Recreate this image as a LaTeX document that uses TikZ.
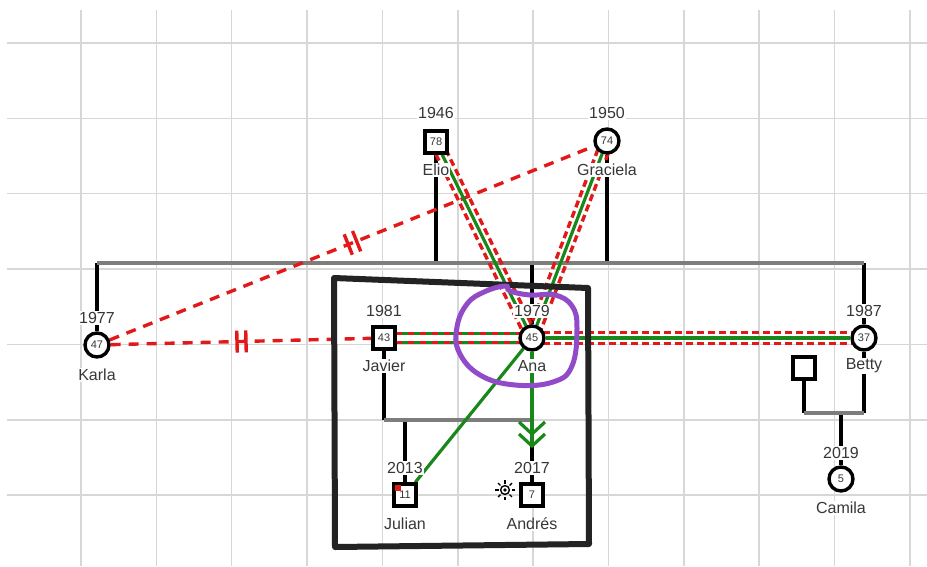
\documentclass[tikz,border=0pt]{standalone}
\usepackage{fontspec}
\setmainfont{Liberation Sans}
\usetikzlibrary{calc,decorations.markings}
\pgfdeclarelayer{gridlayer}
\pgfdeclarelayer{background}
\pgfdeclarelayer{fore}
\pgfsetlayers{gridlayer,background,main,fore}
\definecolor{txt}{RGB}{55,55,55}
\definecolor{gridc}{RGB}{215,215,215}
\definecolor{linegray}{RGB}{125,125,125}
\definecolor{grn}{RGB}{25,135,25}
\definecolor{rd}{RGB}{225,25,25}
\definecolor{purp}{RGB}{145,75,200}
\definecolor{framec}{RGB}{35,35,35}
\tikzset{
  male/.style={draw=black, line width=3.4pt, rectangle, minimum size=22pt, inner sep=0pt, fill=white, font=\fontsize{11}{11}\selectfont, text=txt},
  female/.style={draw=black, line width=3.4pt, circle, minimum size=24pt, inner sep=0pt, fill=white, font=\fontsize{11}{11}\selectfont, text=txt},
  yr/.style={fill=white, inner sep=1pt, font=\fontsize{16}{16}\selectfont, text=txt},
  nm/.style={fill=white, inner sep=1pt, font=\fontsize{16}{16}\selectfont, text=txt},
  kin/.style={line width=3.4pt, black},
  sib/.style={line width=3.6pt, linegray},
  reddash/.style={rd, line width=3.4pt, dash pattern=on 7pt off 4pt},
  cutline/.style={rd, line width=3.4pt, dash pattern=on 10pt off 8pt,
    postaction={decorate},
    decoration={markings, mark=at position 0.5 with {\draw[rd, solid, line width=3.4pt] (-4,-11) -- (-4,11) (5,-11) -- (5,11);}}},
  grnline/.style={grn, line width=3.2pt},
  rgline/.style={rd, line width=3.4pt, dash pattern=on 6pt off 6pt},
}
\newcommand\fusedrel[2]{%
  \draw[grnline] (#1) -- (#2);
  \draw[reddash] ($(#1)!5.5pt!90:(#2)$) -- ($(#2)!5.5pt!-90:(#1)$);
  \draw[reddash] ($(#1)!5.5pt!-90:(#2)$) -- ($(#2)!5.5pt!90:(#1)$);
}
\begin{document}
\begin{tikzpicture}[x=1pt,y=-1pt]
\useasboundingbox (0,0) rectangle (927,566);
% grid
\begin{pgfonlayer}{gridlayer}
  \fill[white] (0,0) rectangle (927,566);
  \foreach \i in {0,...,11} \draw[gridc, line width=1.5pt] ({81+75.35*\i},10) -- ({81+75.35*\i},566);
  \foreach \j in {0,...,6} \draw[gridc, line width=1.5pt] (7,{43+75.35*\j}) -- (927,{43+75.35*\j});
\end{pgfonlayer}

% persons
\node[male] (elio) at (436,142) {78};
\node[yr] (elioY) at (436,113) {1946};
\node[nm] (elioN) at (436,170) {Elio};

\node[female] (graciela) at (607,141) {74};
\node[yr] (gracielaY) at (607,113) {1950};
\node[nm] (gracielaN) at (607,170) {Graciela};

\node[female] (karla) at (97,345) {47};
\node[yr] (karlaY) at (97,318) {1977};
\node[nm] (karlaN) at (97,375) {Karla};

\node[male] (javier) at (384,338) {43};
\node[yr] (javierY) at (384,311) {1981};
\node[nm] (javierN) at (384,366) {Javier};

\node[female] (ana) at (532,338) {45};
\node[yr] (anaY) at (532,311) {1979};
\node[nm] (anaN) at (532,366) {Ana};

\node[female] (betty) at (864,338) {37};
\node[yr] (bettyY) at (864,311) {1987};
\node[nm] (bettyN) at (864,366) {Betty};

\node[male] (partner) at (804,368) {};

\node[female] (camila) at (841,479) {5};
\node[yr] (camilaY) at (841,453) {2019};
\node[nm] (camilaN) at (841,508) {Camila};

\node[male] (julian) at (405,495) {11};
\node[yr] (julianY) at (405,468) {2013};
\node[nm] (julianN) at (405,524) {Julian};
\fill[rd] (395,485) rectangle (401,491);

\node[male] (andres) at (532,495) {7};
\node[yr] (andresY) at (532,468) {2017};
\node[nm] (andresN) at (532,524) {Andrés};

% sun symbol next to Andres
\begin{scope}[shift={(505,490)}]
  \draw[black, line width=1.4pt] (0,0) circle (4.4);
  \fill[black] (0,0) circle (1.8);
  \foreach \a in {0,45,...,315} \draw[black, line width=1.4pt] (\a:6.5) -- (\a:9.8);
\end{scope}

% junction coordinates
\coordinate (sL) at (97,263);
\coordinate (sR) at (864,263);
\coordinate (sE) at (436,263);
\coordinate (sG) at (607,263);
\coordinate (sA) at (532,263);
\coordinate (fL) at (384,420);
\coordinate (fR) at (532,420);
\coordinate (fJ) at (405,420);
\coordinate (bL) at (804,413);
\coordinate (bR) at (864,413);
\coordinate (bC) at (841,413);
\coordinate (arrTip) at (532,446);

\begin{pgfonlayer}{background}
  % family structure
  \draw[kin] (sL) -- (karla);
  \draw[kin] (sE) -- (elio);
  \draw[kin] (sG) -- (graciela);
  \draw[kin] (sA) -- (ana);
  \draw[kin] (sR) -- (betty);
  \draw[sib] (sL) -- (sR);
  \draw[kin] (javier) -- (fL);
  \draw[kin] (fJ) -- (julian);
  \draw[kin] (fR) -- (andres);
  \draw[sib] (fL) -- (fR);
  \draw[kin] (betty) -- (bR);
  \draw[kin] (partner) -- (bL);
  \draw[kin] (bC) -- (camila);
  \draw[sib] (bL) -- (bR);
  % emotional relationships
  \draw[cutline] (karla) -- (graciela);
  \draw[cutline] (karla) -- (javier);
  \fusedrel{elio}{ana}
  \fusedrel{graciela}{ana}
  \fusedrel{ana}{betty}
  \draw[grn, line width=3.4pt] ($(javier)!4.5pt!90:(ana)$) -- ($(ana)!4.5pt!-90:(javier)$);
  \draw[rgline] ($(javier)!4.5pt!90:(ana)$) -- ($(ana)!4.5pt!-90:(javier)$);
  \draw[grn, line width=3.4pt] ($(javier)!4.5pt!-90:(ana)$) -- ($(ana)!4.5pt!90:(javier)$);
  \draw[rgline] ($(javier)!4.5pt!-90:(ana)$) -- ($(ana)!4.5pt!90:(javier)$);
  \draw[grnline] (julian) -- (ana);
  \draw[grnline] (ana) -- (arrTip);
  \draw[grnline] ($(arrTip)+(-13,-24)$) -- ($(arrTip)+(0,-12)$) -- ($(arrTip)+(13,-24)$);
  \draw[grnline] ($(arrTip)+(-13,-12)$) -- (arrTip) -- ($(arrTip)+(13,-12)$);
\end{pgfonlayer}

\begin{pgfonlayer}{fore}
  \draw[framec, line width=6pt, line join=round] (334,278) -- (588,288) -- (589,544) -- (335,547) -- cycle;
  \draw[purp, line width=5pt, line cap=round] plot[smooth cycle, tension=0.7] coordinates {(510,291) (530,295) (555,295) (572,306) (577,328) (572,366) (553,382) (515,385) (480,375) (459,352) (457,327) (467,304) (484,292) (505,286)};
\end{pgfonlayer}
\end{tikzpicture}
\end{document}
